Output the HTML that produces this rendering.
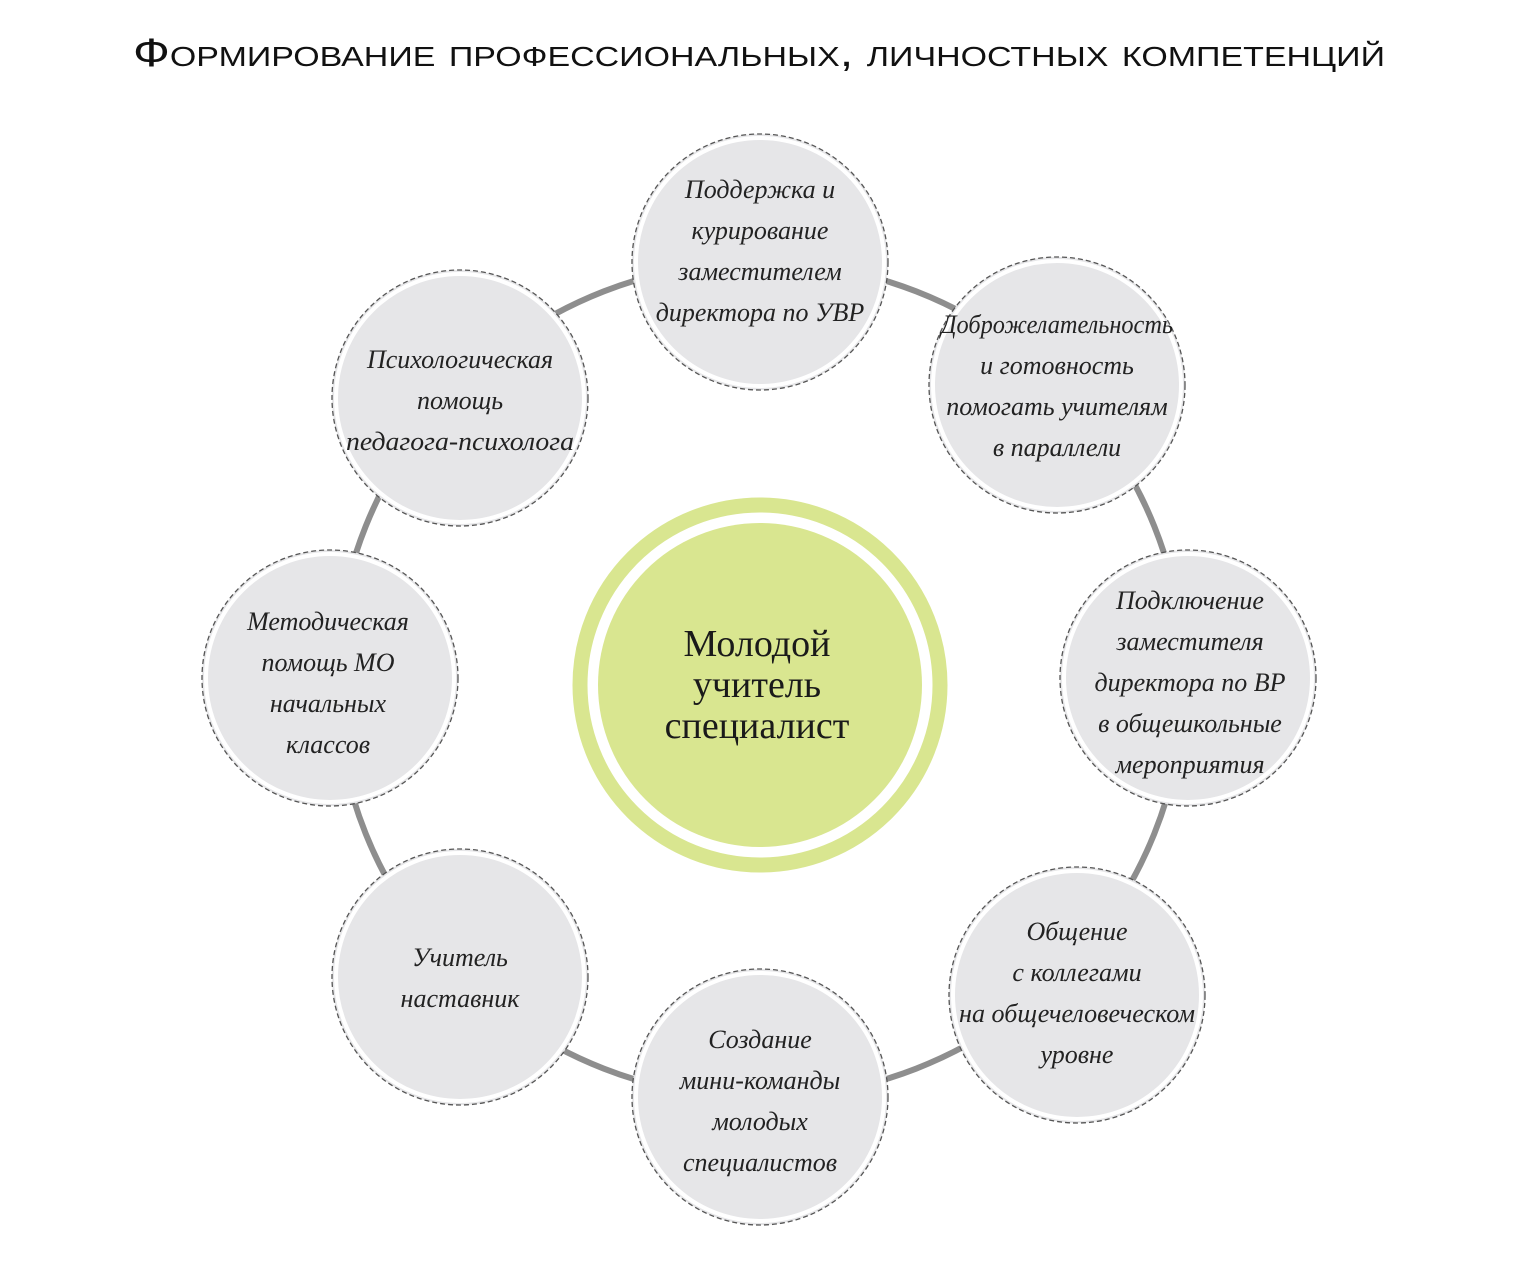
<!DOCTYPE html>
<html><head><meta charset="utf-8"><style>
html,body{margin:0;padding:0;background:#fff;}
svg{display:block}
.n{font-family:"Liberation Serif",serif;font-style:italic;font-size:26px;fill:#222;text-anchor:middle}
</style></head><body>
<svg width="1520" height="1280" viewBox="0 0 1520 1280" xmlns="http://www.w3.org/2000/svg">
<text x="133" y="66" textLength="1252" lengthAdjust="spacingAndGlyphs" font-family="Liberation Sans, sans-serif" font-size="40" fill="#111" style="font-variant:small-caps">Формирование профессиональных, личностных компетенций</text>
<ellipse cx="760" cy="680" rx="424" ry="418" fill="none" stroke="#8e8e8e" stroke-width="6"/>
<circle cx="760" cy="685" r="180" fill="none" stroke="#d9e690" stroke-width="15"/>
<circle cx="760" cy="685" r="162" fill="#d9e690"/>
<text font-family="Liberation Serif, serif" font-size="38" fill="#1a1a1a" text-anchor="middle"><tspan x="757" y="656">Молодой</tspan><tspan x="757" y="697">учитель</tspan><tspan x="757" y="738">специалист</tspan></text>
<g fill="#e6e6e8" stroke="#555" stroke-width="1.3" stroke-dasharray="5 3">
<circle cx="760" cy="262" r="128"/><circle cx="1057" cy="385" r="128"/><circle cx="1188" cy="678" r="128"/><circle cx="1077" cy="995" r="128"/><circle cx="760" cy="1097" r="128"/><circle cx="460" cy="977" r="128"/><circle cx="330" cy="678" r="128"/><circle cx="460" cy="398" r="128"/>
</g>
<g fill="none" stroke="#fff" stroke-width="4">
<circle cx="760" cy="262" r="124"/><circle cx="1057" cy="385" r="124"/><circle cx="1188" cy="678" r="124"/><circle cx="1077" cy="995" r="124"/><circle cx="760" cy="1097" r="124"/><circle cx="460" cy="977" r="124"/><circle cx="330" cy="678" r="124"/><circle cx="460" cy="398" r="124"/>
</g>
<text class="n"><tspan x="760" y="198">Поддержка и</tspan><tspan x="760" y="239">курирование</tspan><tspan x="760" y="280">заместителем</tspan><tspan x="760" y="321">директора по УВР</tspan></text>
<text class="n"><tspan x="1057" y="333" textLength="232" lengthAdjust="spacingAndGlyphs">Доброжелательность</tspan><tspan x="1057" y="374">и готовность</tspan><tspan x="1057" y="415">помогать учителям</tspan><tspan x="1057" y="456">в параллели</tspan></text>
<text class="n"><tspan x="1190" y="609">Подключение</tspan><tspan x="1190" y="650">заместителя</tspan><tspan x="1190" y="691">директора по ВР</tspan><tspan x="1190" y="732">в общешкольные</tspan><tspan x="1190" y="773">мероприятия</tspan></text>
<text class="n"><tspan x="1077" y="940">Общение</tspan><tspan x="1077" y="981">с коллегами</tspan><tspan x="1077" y="1022" textLength="236" lengthAdjust="spacingAndGlyphs">на общечеловеческом</tspan><tspan x="1077" y="1063">уровне</tspan></text>
<text class="n"><tspan x="760" y="1048">Создание</tspan><tspan x="760" y="1089">мини-команды</tspan><tspan x="760" y="1130">молодых</tspan><tspan x="760" y="1171">специалистов</tspan></text>
<text class="n"><tspan x="460" y="966">Учитель</tspan><tspan x="460" y="1007">наставник</tspan></text>
<text class="n"><tspan x="328" y="630">Методическая</tspan><tspan x="328" y="671">помощь МО</tspan><tspan x="328" y="712">начальных</tspan><tspan x="328" y="753">классов</tspan></text>
<text class="n"><tspan x="460" y="368">Психологическая</tspan><tspan x="460" y="409">помощь</tspan><tspan x="460" y="450" textLength="228" lengthAdjust="spacingAndGlyphs">педагога-психолога</tspan></text>
</svg>
</body></html>
